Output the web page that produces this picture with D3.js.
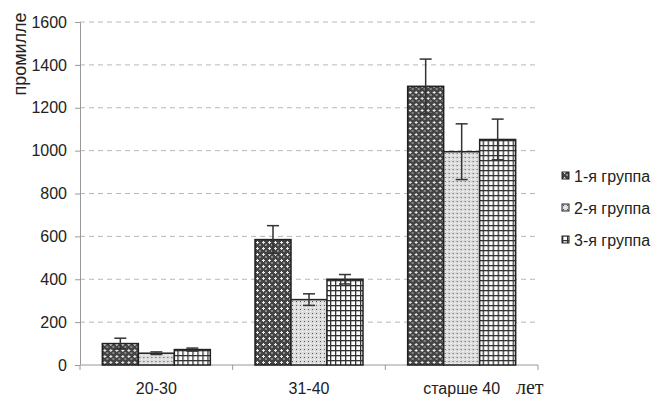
<!DOCTYPE html>
<html>
<head>
<meta charset="utf-8">
<script src="https://cdn.jsdelivr.net/npm/d3@7"></script>
<style>
  body { margin: 0; background: #fff; }
  svg { font-family: "Liberation Sans", Arial, sans-serif; }
</style>
</head>
<body>
<script>
// data
const categories = ['20-30', '31-40', 'старше 40'];
const groups = ['1-я группа', '2-я группа', '3-я группа'];
const values = [
  [100, 55, 72],
  [585, 305, 400],
  [1300, 995, 1052]
];
const errors = [
  [25, 6, 7],
  [65, 27, 22],
  [127, 130, 95]
];
const yTicks = [0, 200, 400, 600, 800, 1000, 1200, 1400, 1600];

const width = 656, height = 399;
const plotLeft = 80, plotRight = 538, plotTop = 22, plotBottom = 365;

const svg = d3.select('body').append('svg')
  .attr('width', width)
  .attr('height', height);

// patterns for the three groups
const defs = svg.append('defs');

let p1 = defs.append('pattern').attr('id', 'pat0')
  .attr('patternUnits', 'userSpaceOnUse').attr('width', 6).attr('height', 6);
p1.append('rect').attr('width', 6).attr('height', 6).attr('fill', '#444');
p1.append('rect').attr('x', 1).attr('y', 2).attr('width', 3).attr('height', 1).attr('fill', '#e8e8e8');
p1.append('rect').attr('x', 2).attr('y', 1).attr('width', 1).attr('height', 3).attr('fill', '#e8e8e8');
p1.append('rect').attr('x', 4).attr('y', 4).attr('width', 2).attr('height', 2).attr('fill', '#888');

let p2 = defs.append('pattern').attr('id', 'pat1')
  .attr('patternUnits', 'userSpaceOnUse').attr('width', 4).attr('height', 4);
p2.append('rect').attr('width', 4).attr('height', 4).attr('fill', '#dcdcdc');
p2.append('rect').attr('x', 1).attr('y', 1).attr('width', 1).attr('height', 1).attr('fill', '#555');
p2.append('rect').attr('x', 3).attr('y', 3).attr('width', 1).attr('height', 1).attr('fill', '#fff');

let p3 = defs.append('pattern').attr('id', 'pat2')
  .attr('patternUnits', 'userSpaceOnUse').attr('width', 5).attr('height', 5);
p3.append('rect').attr('width', 5).attr('height', 5).attr('fill', '#fff');
p3.append('rect').attr('x', 0).attr('y', 0).attr('width', 5).attr('height', 1.3).attr('fill', '#333');
p3.append('rect').attr('x', 0).attr('y', 0).attr('width', 1.3).attr('height', 5).attr('fill', '#333');

const x0 = d3.scaleBand().domain(categories).range([plotLeft, plotRight]);
const x1 = d3.scaleBand().domain(groups).range([0, 108]);
const y = d3.scaleLinear().domain([0, 1600]).range([plotBottom, plotTop]);

// grid
svg.append('g').selectAll('line').data(yTicks.slice(1)).enter().append('line')
  .attr('x1', plotLeft).attr('x2', plotRight)
  .attr('y1', d => y(d)).attr('y2', d => y(d))
  .attr('stroke', '#b8b8b8').attr('stroke-dasharray', '5,4');

// y axis
const yAxis = d3.axisLeft(y).tickValues(yTicks).tickFormat(d3.format('d')).tickSize(5).tickPadding(8);
const gy = svg.append('g').attr('transform', `translate(${plotLeft},0)`).call(yAxis);
gy.attr('font-size', null).attr('font-family', null);
gy.select('.domain').attr('stroke', '#999');
gy.selectAll('.tick line').attr('stroke', '#999');
gy.selectAll('text').style('font-size', '16px').attr('fill', '#222');

// x axis
svg.append('line').attr('x1', plotLeft).attr('x2', plotRight).attr('y1', plotBottom).attr('y2', plotBottom)
  .attr('stroke', '#bbb').attr('stroke-width', 1.5);
svg.append('g').selectAll('line').data(d3.range(categories.length + 1)).enter().append('line')
  .attr('x1', i => plotLeft + i * x0.bandwidth()).attr('x2', i => plotLeft + i * x0.bandwidth())
  .attr('y1', plotBottom).attr('y2', plotBottom + 5).attr('stroke', '#999');
svg.append('g').selectAll('text').data(categories).enter().append('text')
  .attr('x', d => x0(d) + x0.bandwidth() / 2).attr('y', 394)
  .attr('text-anchor', 'middle').style('font-size', '16px').attr('fill', '#222')
  .text(d => d);

svg.append('text').attr('x', 516).attr('y', 394)
  .style('font-family', '"Liberation Serif", "Times New Roman", serif')
  .style('font-size', '20px').attr('fill', '#222').text('лет');

// bars
categories.forEach((c, ci) => {
  const g = svg.append('g').attr('transform', `translate(${x0(c) + (x0.bandwidth() - 108) / 2},0)`);
  g.selectAll('rect').data(values[ci]).enter().append('rect')
    .attr('x', (d, i) => x1(groups[i]))
    .attr('y', d => y(d))
    .attr('width', x1.bandwidth())
    .attr('height', d => plotBottom - y(d))
    .attr('fill', (d, i) => `url(#pat${i})`)
    .attr('stroke', '#222').attr('stroke-width', 1.5);
  const eb = g.selectAll('g.err').data(values[ci]).enter().append('g').attr('class', 'err');
  eb.append('line')
    .attr('x1', (d, i) => x1(groups[i]) + x1.bandwidth() / 2)
    .attr('x2', (d, i) => x1(groups[i]) + x1.bandwidth() / 2)
    .attr('y1', (d, i) => y(d + errors[ci][i]))
    .attr('y2', (d, i) => y(d - errors[ci][i]))
    .attr('stroke', '#333').attr('stroke-width', 1.5);
  [1, -1].forEach(s => {
    eb.append('line')
      .attr('x1', (d, i) => x1(groups[i]) + x1.bandwidth() / 2 - 6)
      .attr('x2', (d, i) => x1(groups[i]) + x1.bandwidth() / 2 + 6)
      .attr('y1', (d, i) => y(d + s * errors[ci][i]))
      .attr('y2', (d, i) => y(d + s * errors[ci][i]))
      .attr('stroke', '#333').attr('stroke-width', 1.5);
  });
});

// y label
svg.append('text')
  .attr('transform', 'translate(26,54) rotate(-90)')
  .attr('text-anchor', 'middle').style('font-size', '18px').attr('fill', '#222')
  .text('промилле');

// legend
const lg = svg.append('g').selectAll('g').data(groups).enter().append('g')
  .attr('transform', (d, i) => `translate(562,${176 + i * 32})`);
lg.append('rect').attr('x', 0).attr('y', -4).attr('width', 7).attr('height', 7)
  .attr('fill', (d, i) => `url(#pat${i})`).attr('stroke', '#222').attr('stroke-width', 1);
lg.append('text').attr('x', 12).attr('y', 5.5).style('font-size', '16px').attr('fill', '#222').text(d => d);
</script>
</body>
</html>
